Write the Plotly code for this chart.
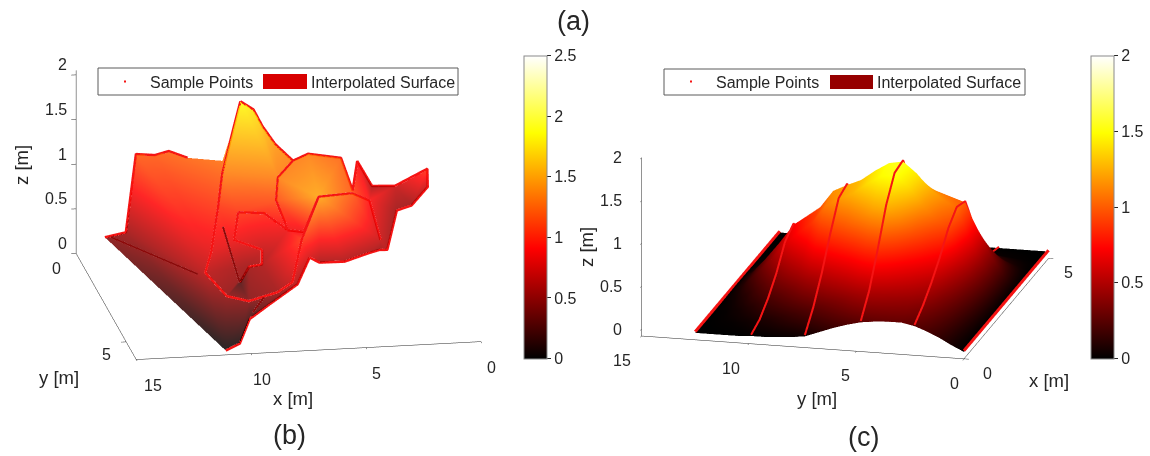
import plotly.graph_objects as go

# ---------- panel (b): sample vertices ----------
bx = [11.04,14.36,13.57,12.66,11.31,10.67,9.38,8.37,7.5,6.5,5.70,4.19,2.83,2.16,1.40,0.37,0.04,0.85,1.59,3.04,3.27,3.87,5.13,6.21,6.83,7.66,8.78,9.66,10.35,
      9.8,10.14,10.99,11.39,10.72,9.8,8.58,8.04,7.38,6.6,4.47,3.25,3.3,
      9.41,8.23,7.31,6.68,9.81,8.55,8.69,9.18,9.3,7.54,7.73,
      8.74,7.8,7.07,11.88,4.15]
by = [5.86,1.40,1.68,0.60,0.77,1.20,1.71,1.19,1.38,2.15,1.81,1.64,0.14,0.08,0.63,1.5,0.78,1.02,1.25,3.63,3.37,3.75,4.16,4.14,4.57,5.27,5.06,5.08,5.67,
      2.65,3.02,4.27,4.61,5.23,5.32,5.4,5.63,5.04,4.94,3.37,2.34,3.56,
      3.35,3.23,3.49,3.64,3.88,3.76,4.08,3.92,3.29,3.03,3.29,
      1.45,1.18,1.67,0.71,2.72]
bz = [0.02,0.45,0.55,1.2,1.25,1.25,1.3,1.85,1.6,1.35,1.35,1.25,0.9,0.6,0.7,1.05,0.7,0.55,0.55,0.6,0.55,0.6,0.6,0.6,0.75,0.6,0.35,0.2,0.05,
      1.35,1.05,0.8,0.65,0.5,0.45,0.55,0.7,1.05,1.5,1.2,0.9,0.7,
      1.05,1.0,0.85,0.85,0.85,0.7,0.6,0.55,0.25,1.35,1.15,
      1.65,1.75,1.45,1.2,1.1]
b_faces = [(1,2,3),(3,4,33),(4,57,32),(57,5,32),(5,6,32),(6,7,31),(7,30,31),(6,31,32),(4,32,33),(1,3,33),(1,33,34),(1,34,35),(1,35,29),
           (29,35,28),(28,35,36),(28,36,27),(27,36,37),(27,37,26),
           (7,54,30),(54,8,30),(8,55,52),(55,9,52),(8,52,30),(9,56,52),(56,10,52),(30,52,53),(30,53,43),(30,43,31),(31,43,47),(31,47,32),(32,47,50),(32,50,33),(33,50,34),(34,50,51),(34,51,35),(35,51,50),
           (50,48,49),(47,48,50),(43,44,48),(43,48,47),(44,45,48),(49,45,38),(48,45,49),(49,38,36),(36,37,38),(49,36,35),(49,35,50),(45,46,38),(46,39,38),
           (43,53,44),(44,53,45),(10,11,52),(11,39,52),(52,39,53),(53,39,46),(53,46,45),(11,12,39),(12,40,39),
           (12,58,40),(58,41,40),(58,13,41),(40,41,42),(13,14,41),(14,15,41),(15,16,18),(16,17,18),(15,18,19),(15,19,41),(19,20,42),(19,42,41),(20,21,42),(21,22,42),
           (39,40,42),(39,42,22),(39,22,23),(39,23,24),(39,24,25),(38,39,25),(38,25,26),(38,26,37)]
b_paths = [[2,3,4,57,5,6],
           [8,54,30,31,32,33,34,35,36,37,38,39,40,41,42],
           [8,55,9,56,10,11,12,58,13,14,15,16,17,18,19,20,21,22,23,24,25],
           [10,52,53,45,46,39],
           [43,44,45],[43,47,48,49,50,51],
           [1,29,28,27,26,25]]
# thin darker creases seen on the surface of panel (b)
crease_x = [[14.36,11.88],[11.18,10.45],[9.88,9.4]]
crease_y = [[2.0,5.0],[5.9,5.9],[5.9,5.9]]
crease_z = [[0.57,0.716],[1.416,0.78],[0.44,0.6]]

# ---------- panel (c): surface heights ----------
cx = [0,0.5,1,1.5,2,2.5,3,3.5,4,4.5,5]
cy = [0,0.6,1.2,1.75,2.3,2.9,3.5,4.15,4.8,5.45,6.1,6.75,7.4,8.05,8.65,9.3,9.9,10.55,11.2,11.85,12.5]
cz = [[0,0,0,0,0,0,0,0,0,0,0],
      [.07,.09,.12,.16,.2,.22,.21,.13,.05,.01,0],
      [.15,.2,.26,.33,.41,.45,.43,.27,.1,.02,0],
      [.21,.29,.38,.5,.63,.72,.7,.43,.16,.03,0],
      [.26,.37,.52,.7,.92,1.05,1.0,.6,.23,.04,0],
      [.29,.42,.6,.82,1.03,1.13,1.05,.65,.26,.05,0],
      [.29,.45,.68,.95,1.17,1.24,1.1,.68,.27,.05,0],
      [.28,.48,.78,1.13,1.38,1.42,1.15,.68,.26,.05,0],
      [.26,.5,.86,1.26,1.52,1.55,1.17,.66,.25,.05,0],
      [.22,.45,.8,1.2,1.48,1.52,1.13,.62,.23,.04,0],
      [.17,.38,.7,1.08,1.38,1.42,1.05,.58,.21,.04,0],
      [.11,.32,.62,.97,1.26,1.3,.98,.54,.19,.03,0],
      [.05,.26,.54,.88,1.18,1.23,.92,.5,.17,.03,0],
      [.03,.2,.46,.78,1.08,1.15,.85,.46,.15,.02,0],
      [.02,.15,.36,.62,.88,.95,.76,.4,.13,.02,0],
      [.01,.1,.27,.5,.75,.83,.66,.34,.1,.01,0],
      [.01,.07,.2,.38,.62,.72,.55,.28,.08,.01,0],
      [0,.04,.12,.25,.42,.5,.4,.19,.05,.01,0],
      [0,.02,.06,.13,.25,.3,.22,.1,.03,0,0],
      [0,.01,.02,.05,.1,.12,.09,.04,.01,0,0],
      [0,0,0,0,0,0,0,0,0,0,0]]
c_transects = [0,4,8,12,16,20]

b_ticks = [0,0.5,1,1.5,2,2.5]
c_ticks = [0,0.5,1,1.5,2]
z_ticks = [0,0.5,1,1.5,2]
bx_ticks = [0,5,10,15]
by_ticks = [0,5]
cx_ticks = [0,5]
cy_ticks = [0,5,10,15]

FONT = "Liberation Sans, Arial, sans-serif"
INK = "#262626"
RED = "#f51414"
HOT = [[0,"#000000"],[0.365,"#ff0000"],[0.746,"#ffff00"],[1,"#ffffff"]]
FLAT = dict(ambient=1,diffuse=0,specular=0,roughness=1,fresnel=0)
W,H = 1150,456

def cbar(left,vals):
    return dict(x=left/W,xanchor="left",xpad=0,y=1-358.5/H,yanchor="bottom",ypad=0,
                len=303/H,lenmode="fraction",thickness=23,thicknessmode="pixels",
                tickvals=vals,ticktext=[f"{v:g}" for v in vals],ticks="outside",ticklen=4,
                tickcolor=INK,outlinecolor="#8a8a8a",outlinewidth=1,
                tickfont=dict(family=FONT,size=16,color=INK))

fig = go.Figure()
fig.add_trace(go.Mesh3d(x=bx,y=by,z=bz,intensity=bz,cmin=0,cmax=2.5,colorscale=HOT,
    i=[f[0]-1 for f in b_faces],j=[f[1]-1 for f in b_faces],k=[f[2]-1 for f in b_faces],
    opacity=0.85,lighting=FLAT,colorbar=cbar(524,b_ticks),scene="scene",hoverinfo="skip"))
for cxs,cys,czs in zip(crease_x,crease_y,crease_z):
    fig.add_trace(go.Scatter3d(x=cxs,y=cys,z=czs,mode="lines",line=dict(color="#8c0a0a",width=4),
        showlegend=False,scene="scene",hoverinfo="skip"))
for p in b_paths:
    fig.add_trace(go.Scatter3d(x=[bx[n-1] for n in p],y=[by[n-1] for n in p],z=[bz[n-1] for n in p],
        mode="lines",line=dict(color=RED,width=5),showlegend=False,scene="scene",hoverinfo="skip"))

fig.add_trace(go.Surface(x=cx,y=cy,z=cz,cmin=0,cmax=2,colorscale=HOT,
    lighting=FLAT,colorbar=cbar(1091,c_ticks),scene="scene2",hoverinfo="skip"))
for t,lw in zip(c_transects,[6,4,4,4,4,6]):
    fig.add_trace(go.Scatter3d(x=cx,y=[cy[t]]*len(cx),z=[v+0.015 for v in cz[t]],
        mode="lines",line=dict(color=RED,width=lw),showlegend=False,scene="scene2",hoverinfo="skip"))

def axis(rng,ticks):
    return dict(title=dict(text=""),range=rng,tickvals=ticks,showticklabels=False,
                showbackground=False,showgrid=False,zeroline=False,showspikes=False,
                showline=True,linecolor=INK,linewidth=1,ticks="outside",ticklen=5,tickcolor=INK)
def tick(x,y,z,v,dx,dy,anchor="center"):
    return dict(x=x,y=y,z=z,text=f"{v:g}",showarrow=False,xanchor=anchor,yanchor="middle",xshift=dx,yshift=-dy,
                font=dict(family=FONT,size=16,color=INK))

b_ann = [tick(15,0,v,v,-7,-10,"right") for v in z_ticks]
b_ann += [tick(15,0,0,0,-20,15),tick(15,5,0,5,-20,13)]
b_ann += [tick(v,6,0,v,sx,26) for v,sx in zip(bx_ticks,[11,11,11,17])]
c_ann = [tick(0,15,v,v,-17,0,"right") for v in z_ticks]
c_ann += [tick(0,v,-0.08,v,sx,24.5) for v,sx in zip(cy_ticks,[-9,-11,-18,-19])]
c_ann += [tick(0,0,-0.08,0,24,15),tick(5,0,-0.08,5,20,14)]

K = 1.75
fig.update_layout(
    width=W,height=H,margin=dict(l=0,r=0,t=0,b=0),paper_bgcolor="white",showlegend=False,
    scene=dict(domain=dict(x=[8/W,549/W],y=[1-412/H,1]),
        xaxis=axis([0,15],bx_ticks),yaxis=axis([0,6],by_ticks),
        zaxis=axis([0,2.05],z_ticks),annotations=b_ann,
        aspectmode="manual",aspectratio=dict(x=0.97*K,y=0.985*K,z=0.533*K),
        camera=dict(projection=dict(type="orthographic"),up=dict(x=0,y=0,z=1),center=dict(x=0,y=0,z=0),
                    eye=dict(x=0.161*1.8,y=0.939*1.8,z=0.303*1.8))),
    scene2=dict(domain=dict(x=[550/W,1140/W],y=[1-416/H,1]),
        xaxis=axis([0,5],cx_ticks),yaxis=axis([0,15],cy_ticks),
        zaxis=axis([-0.08,2],z_ticks),annotations=c_ann,
        aspectmode="manual",aspectratio=dict(x=0.98*K,y=0.912*K,z=0.512*K),
        camera=dict(projection=dict(type="orthographic"),up=dict(x=0,y=0,z=1),center=dict(x=0,y=0,z=0),
                    eye=dict(x=-0.930*1.8,y=-0.227*1.8,z=0.29*1.8))),
    font=dict(family=FONT,color=INK),
)

def box(x0,x1,y0,y1,**kw):
    fig.add_shape(type="rect",xref="paper",yref="paper",x0=x0/W,x1=x1/W,y0=1-y0/H,y1=1-y1/H,**kw)
def label(x,y,text,size,anchor="center",angle=0):
    fig.add_annotation(xref="paper",yref="paper",x=x/W,y=1-y/H,text=text,showarrow=False,xanchor=anchor,yanchor="middle",
                       textangle=angle,font=dict(family=FONT,size=size,color=INK),bgcolor="rgba(0,0,0,0)")
for x0,x1,y0,y1,sx0,sx1,col,dot,t1,t2 in [(98,458,68,95,263,307,"#d80000",125,148,309),
                                         (664,1025,69,95,830,873,"#960000",691,714,875)]:
    box(x0,x1,y0,y1,line=dict(color="#5a5a5a",width=1),fillcolor="white",layer="above")
    box(sx0,sx1,y0+6,y1-6,line=dict(width=0),fillcolor=col,layer="above")
    box(dot-1,dot+1,80.5,82.5,line=dict(width=0),fillcolor=RED,layer="above")
    label(t1,82,"Sample Points",16,"left")
    label(t2,82,"Interpolated Surface",16,"left")
label(573,21,"(a)",27); label(289,435,"(b)",27); label(863,437,"(c)",27)
label(293,398,"x [m]",18.5); label(59,377,"y [m]",18.5); label(21,165,"z [m]",18.5,angle=-90)
label(817,398,"y [m]",18.5); label(1049,380,"x [m]",18.5); label(587,247,"z [m]",18.5,angle=-90)

fig.write_html("out.html",config=dict(displayModeBar=False),
               post_script="document.body.style.margin='0';document.documentElement.style.overflow='hidden';")
